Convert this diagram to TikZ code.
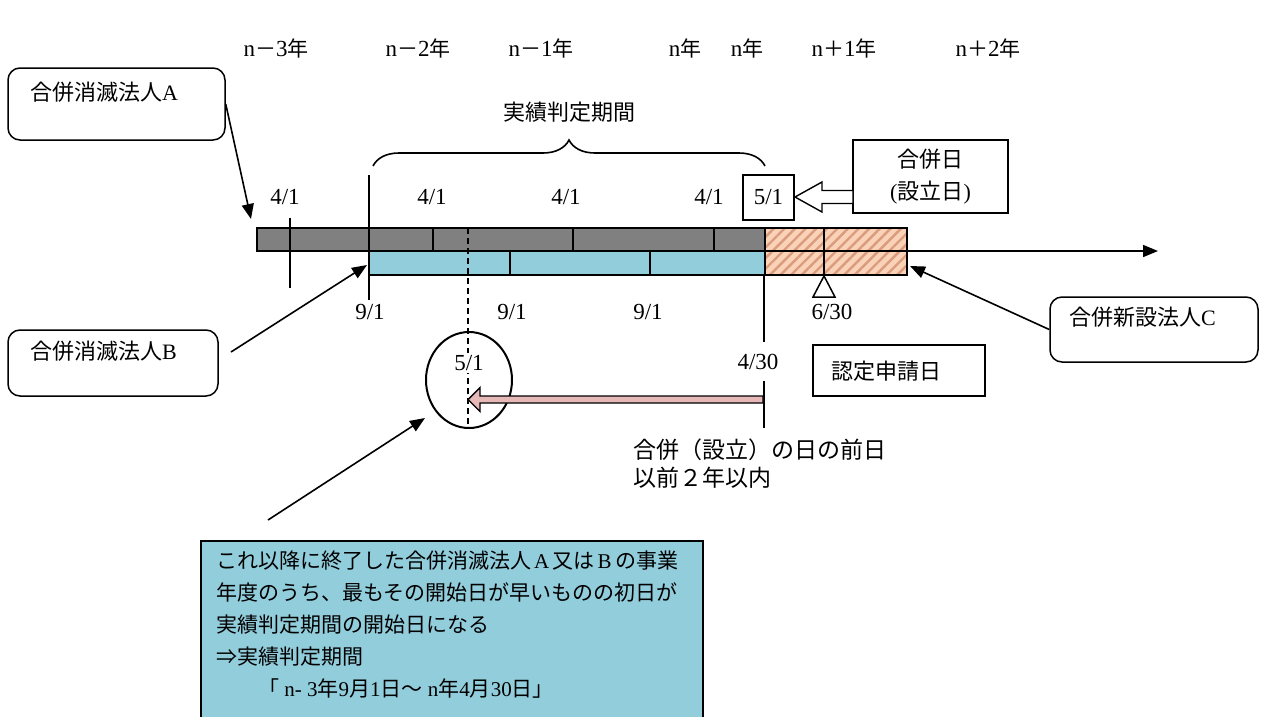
\documentclass[tikz,border=0pt]{standalone}
\usepackage{fontspec}
\setmainfont{Noto Sans CJK JP}
\newfontfamily\lat{Liberation Serif}
\usetikzlibrary{arrows.meta,decorations.pathreplacing,patterns.meta,shapes.geometric,calc}
\definecolor{barGray}{RGB}{128,128,128}
\definecolor{aqua}{RGB}{146,205,220}
\definecolor{hatchbg}{RGB}{250,210,184}
\definecolor{hatchln}{RGB}{218,156,126}
\definecolor{pinkarrow}{RGB}{230,185,184}
\newcommand\fw[1]{\makebox[1em]{\lat #1}}
\begin{document}
\begin{tikzpicture}[x=1pt,y=-1pt,
  jp/.style={font=\fontsize{22}{31}\selectfont, inner sep=0pt},
  jpbig/.style={font=\fontsize{23}{28}\selectfont, inner sep=0pt},
  datelbl/.style={font=\lat\fontsize{23}{27}\selectfont, inner sep=0pt},
  yearlbl/.style={font=\fontsize{21}{25}\selectfont, inner sep=0pt},
  rbox/.style={draw, line width=1.5pt, rounded corners=12pt, fill=white, inner sep=0pt},
  sbox/.style={draw, line width=1.5pt, fill=white, inner sep=0pt},
  conn/.style={line width=1.6pt, -{Triangle[length=15pt,width=12pt]}},
  barline/.style={line width=2pt},
  thinline/.style={line width=1.6pt},
  blk/.style={line width=1.4pt, line join=miter}]
\useasboundingbox (0,0) rectangle (1262,716);
\fill[white] (0,0) rectangle (1262,716);

% year labels
\node[yearlbl] (y1) at (276,48) {{\lat\fontsize{23}{25}\selectfont n}－{\lat\fontsize{23}{25}\selectfont 3}年};
\node[yearlbl] (y2) at (418,48) {{\lat\fontsize{23}{25}\selectfont n}－{\lat\fontsize{23}{25}\selectfont 2}年};
\node[yearlbl] (y3) at (541,48) {{\lat\fontsize{23}{25}\selectfont n}－{\lat\fontsize{23}{25}\selectfont 1}年};
\node[yearlbl] (y4) at (685,48) {{\lat\fontsize{23}{25}\selectfont n}年};
\node[yearlbl] (y5) at (747,48) {{\lat\fontsize{23}{25}\selectfont n}年};
\node[yearlbl] (y6) at (844,48) {{\lat\fontsize{23}{25}\selectfont n}＋{\lat\fontsize{23}{25}\selectfont 1}年};
\node[yearlbl] (y7) at (988,48) {{\lat\fontsize{23}{25}\selectfont n}＋{\lat\fontsize{23}{25}\selectfont 2}年};

% bars
\fill[barGray] (257,228) rectangle (765,251);
\fill[aqua] (369,251) rectangle (765,275);
\fill[hatchbg] (765,228) rectangle (907,275);
\path[pattern={Lines[angle=45,distance=7.5pt,line width=2.4pt]}, pattern color=hatchln] (765,228) rectangle (907,275);
\draw[barline] (257,228) rectangle (765,251);
\draw[barline] (369,251) rectangle (765,275);
\draw[barline] (765,228) rectangle (907,275);
\draw[barline] (765,251) -- (907,251);
\draw[barline] (433,228) -- (433,251);
\draw[barline] (573,228) -- (573,251);
\draw[barline] (714,228) -- (714,251);
\draw[barline] (510,251) -- (510,275);
\draw[barline] (650,251) -- (650,275);
\draw[barline] (824,228) -- (824,275);

% coordinates
\coordinate (hatchE) at (907,251);
\coordinate (axisEnd) at (1158,251);
\coordinate (barA) at (251,219);
\coordinate (barB) at (367,265);
\coordinate (barC) at (910,266);
\coordinate (circTip) at (425,418);
\coordinate (noteStart) at (268,520);
\coordinate (bStart) at (231,352);

% axis
\draw[conn] (hatchE) -- (axisEnd);

% vertical markers
\draw[thinline] (290,218) -- (290,288);
\draw[thinline] (369,175) -- (369,300);
\draw[thinline, dash pattern=on 6pt off 4pt] (468,228) -- (468,426);
\draw[thinline] (764,275) -- (764,342);
\draw[thinline] (764,381) -- (764,428);

% brace
\draw[thinline, decorate, decoration={brace, amplitude=26pt}] (373,166) -- (765,166);
\node[jp] (jisseki) at (569,112) {実績判定期間};

% date labels
\node[datelbl] (a41) at (285,197) {4/1};
\node[datelbl] (b41) at (432,197) {4/1};
\node[datelbl] (c41) at (566,197) {4/1};
\node[datelbl] (d41) at (709,197) {4/1};
\node[datelbl, sbox, minimum width=51pt, minimum height=45pt] (m51) at (768.5,197.5) {5/1};
\node[datelbl] (a91) at (370,312) {9/1};
\node[datelbl] (b91) at (512,312) {9/1};
\node[datelbl] (c91) at (648,312) {9/1};
\node[datelbl] (d630) at (832,312) {6/30};
\node[datelbl] (d430) at (758,362) {4/30};

% 6/30 triangle
\draw[line width=1.5pt, fill=white, line join=miter] (824,276) -- (835,297) -- (813,297) -- cycle;

% merger day box and block arrow
\node[sbox, minimum width=155pt, minimum height=73pt, align=center, font=\fontsize{22}{32}\selectfont] (mday) at (930.5,176.5) {合併日\\{\lat(}設立日{\lat)}};
\coordinate (wTail) at (853,197);
\coordinate (wTip) at (795,197);
\draw[blk, fill=white] ($(wTail)+(0,-6.5)$) -- ($(wTip)+(27,-6.5)$) -- ($(wTip)+(27,-15)$) -- (wTip) -- ($(wTip)+(27,15)$) -- ($(wTip)+(27,6.5)$) -- ($(wTail)+(0,6.5)$) -- cycle;

% boxes A, B, C
\node[rbox, minimum width=217pt, minimum height=72pt] (boxA) at (116.5,104) {};
\node[jp, anchor=west] (boxAt) at (30,92) {合併消滅法人{\lat A}};
\node[rbox, minimum width=210pt, minimum height=66pt] (boxB) at (113,363) {};
\node[jp, anchor=west] (boxBt) at (30,351) {合併消滅法人{\lat B}};
\node[rbox, minimum width=208pt, minimum height=65pt] (boxC) at (1154,329.5) {};
\node[jp, anchor=west] (boxCt) at (1069,317) {合併新設法人{\lat C}};

% application day box
\node[sbox, minimum width=172pt, minimum height=51pt] (nintei) at (899,370.5) {};
\node[jp, anchor=west] (ninteit) at (831,371) {認定申請日};

% circle and pink arrow
\node[draw, ellipse, line width=2pt, minimum width=86pt, minimum height=96pt, inner sep=0pt] (circ) at (469,380) {};
\node[datelbl, fill=white, inner sep=2pt] (c51) at (469,363) {5/1};
\coordinate (pkTail) at (763,399.5);
\coordinate (pkTip) at (468,399.5);
\draw[blk, fill=pinkarrow] ($(pkTail)+(0,-3.5)$) -- ($(pkTip)+(12,-3.5)$) -- ($(pkTip)+(12,-12)$) -- (pkTip) -- ($(pkTip)+(12,12)$) -- ($(pkTip)+(12,3.5)$) -- ($(pkTail)+(0,3.5)$) -- cycle;

\node[jpbig, anchor=west] (mae1) at (633,450) {合併（設立）の日の前日};
\node[jpbig, anchor=west] (mae2) at (633,478) {以前２年以内};

% connectors
\draw[conn] (boxA.east) -- (barA);
\draw[conn] (bStart) -- (barB);
\draw[conn] (boxC.west) -- (barC);
\draw[conn] (noteStart) -- (circTip);

% note box
\node[draw, fill=aqua, line width=1.5pt, anchor=north west, minimum width=502pt, minimum height=200pt, inner sep=0pt] (note) at (200,540) {};
\node[anchor=north west, align=left, inner sep=0pt, font=\fontsize{21}{32}\selectfont] (notetext) at (216,551) {これ以降に終了した合併消滅法人\fw{A}又は\fw{B}の事業\\年度のうち、最もその開始日が早いものの初日が\\実績判定期間の開始日になる\\⇒実績判定期間\\\hspace*{2em}「{\lat\ n- 3}年{\lat 9}月{\lat 1}日～{\lat\ n}年{\lat 4}月{\lat 30}日」};
\end{tikzpicture}
\end{document}
